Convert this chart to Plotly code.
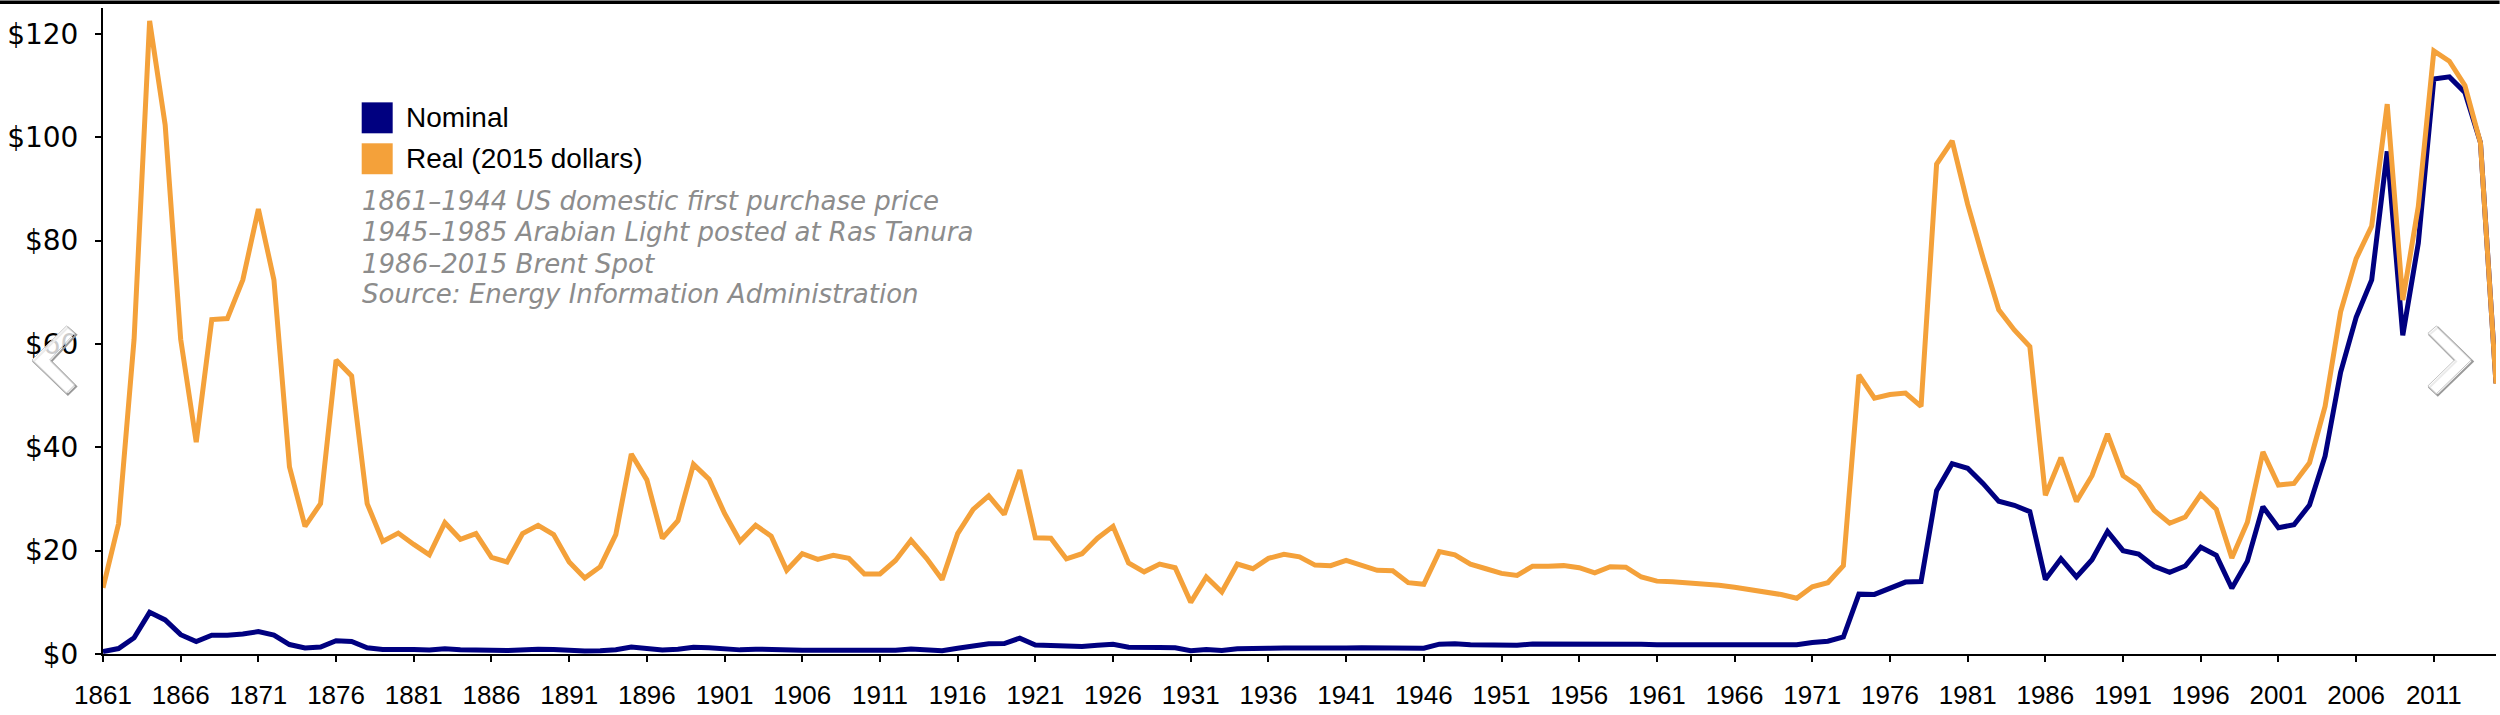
import plotly.graph_objects as go

years = list(range(1861, 2016))

nominal = [
    0.49, 1.05, 3.15, 8.06, 6.59, 3.74, 2.41, 3.62, 3.64, 3.86,   # 1861-1870
    4.34, 3.64, 1.83, 1.17, 1.35, 2.56, 2.42, 1.19, 0.86, 0.95,   # 1871-1880
    0.86, 0.78, 1.00, 0.84, 0.88, 0.71, 0.67, 0.88, 0.94, 0.87,   # 1881-1890
    0.67, 0.56, 0.64, 0.84, 1.36, 1.18, 0.79, 0.91, 1.29, 1.19,   # 1891-1900
    0.96, 0.80, 0.94, 0.86, 0.62, 0.73, 0.72, 0.72, 0.70, 0.61,   # 1901-1910
    0.61, 0.74, 0.95, 0.81, 0.64, 1.10, 1.56, 1.98, 2.01, 3.07,   # 1911-1920
    1.73, 1.61, 1.34, 1.43, 1.68, 1.88, 1.30, 1.17, 1.27, 1.19,   # 1921-1930
    0.65, 0.87, 0.67, 1.00, 0.97, 1.09, 1.18, 1.13, 1.02, 1.02,   # 1931-1940
    1.14, 1.19, 1.20, 1.21, 1.05, 1.12, 1.90, 1.99, 1.78, 1.71,   # 1941-1950
    1.71, 1.71, 1.93, 1.93, 1.93, 1.93, 1.90, 2.08, 2.08, 1.90,   # 1951-1960
    1.80, 1.80, 1.80, 1.80, 1.80, 1.80, 1.80, 1.80, 1.80, 1.80,   # 1961-1970
    2.24, 2.48, 3.29, 11.58, 11.53, 12.80, 13.92, 14.02, 31.61, 36.83,  # 1971-1980
    35.93, 32.97, 29.55, 28.78, 27.56, 14.43, 18.44, 14.92, 18.23, 23.73,  # 1981-1990
    20.00, 19.32, 16.97, 15.82, 17.02, 20.67, 19.09, 12.72, 17.97, 28.50,  # 1991-2000
    24.44, 25.02, 28.83, 38.27, 54.52, 65.14, 72.39, 97.26, 61.67, 79.50,  # 2001-2010
    111.26, 111.67, 108.66, 98.95, 52.39,                                   # 2011-2015
]

real_2015 = [
    12.8, 25.2, 60.9, 122.5, 102.4, 60.9, 41.0, 64.7, 64.9, 72.4,   # 1861-1870
    86.1, 72.4, 36.2, 24.7, 29.1, 56.9, 53.8, 29.1, 21.8, 23.4,     # 1871-1880
    21.2, 19.2, 25.4, 22.2, 23.3, 18.7, 17.8, 23.3, 24.9, 23.1,     # 1881-1890
    17.8, 14.7, 16.9, 23.1, 38.7, 33.7, 22.4, 25.8, 36.7, 33.8,     # 1891-1900
    27.2, 21.8, 24.9, 22.8, 16.2, 19.4, 18.3, 19.1, 18.5, 15.5,     # 1901-1910
    15.5, 18.1, 22.0, 18.5, 14.4, 23.3, 28.0, 30.6, 27.0, 35.6,     # 1911-1920
    22.5, 22.4, 18.4, 19.4, 22.4, 24.7, 17.6, 15.9, 17.4, 16.7,     # 1921-1930
    10.0, 14.9, 12.0, 17.4, 16.5, 18.5, 19.3, 18.8, 17.2, 17.1,     # 1931-1940
    18.1, 17.1, 16.2, 16.1, 13.8, 13.5, 19.8, 19.2, 17.4, 16.5,     # 1941-1950
    15.6, 15.2, 17.0, 17.0, 17.1, 16.7, 15.7, 16.9, 16.8, 14.9,     # 1951-1960
    14.1, 14.0, 13.8, 13.6, 13.3, 12.9, 12.5, 12.0, 11.5, 10.8,     # 1961-1970
    13.0, 13.8, 17.1, 54.0, 49.5, 50.2, 50.5, 47.9, 94.8, 99.3,     # 1971-1980
    87.0, 76.5, 66.6, 62.7, 59.5, 30.7, 38.0, 29.5, 34.5, 42.6,     # 1981-1990
    34.5, 32.4, 27.8, 25.3, 26.5, 30.9, 28.0, 18.6, 25.5, 39.1,     # 1991-2000
    32.7, 33.0, 37.0, 47.9, 66.2, 76.5, 82.8, 106.4, 68.5, 86.6,    # 2001-2010
    116.7, 114.7, 110.0, 98.9, 52.3,                                # 2011-2015
]

x_tick_years = [1861, 1866, 1871, 1876, 1881, 1886, 1891, 1896, 1901, 1906,
                1911, 1916, 1921, 1926, 1931, 1936, 1941, 1946, 1951, 1956,
                1961, 1966, 1971, 1976, 1981, 1986, 1991, 1996, 2001, 2006, 2011]
x_tick_labels = [str(y) for y in x_tick_years]
y_tick_vals = [0, 20, 40, 60, 80, 100, 120]
y_tick_labels = ["$0", "$20", "$40", "$60", "$80", "$100", "$120"]

series_names = ["Nominal", "Real (2015 dollars)"]
notes = [
    "1861–1944 US domestic first purchase price",
    "1945–1985 Arabian Light posted at Ras Tanura",
    "1986–2015 Brent Spot",
    "Source: Energy Information Administration",
]

NAVY = "#000080"
ORANGE = "#F4A13A"

W, H = 2500, 715
PL, PR, PT, PB = 103.3, 2496.4, 7.5, 654.5


def px(xp):
    return (xp - PL) / (PR - PL)


def py(yp):
    return (PB - yp) / (PB - PT)


fig = go.Figure()
fig.add_trace(go.Scatter(x=years, y=nominal, mode="lines", name=series_names[0],
                         line=dict(color=NAVY, width=5), showlegend=False))
fig.add_trace(go.Scatter(x=years, y=real_2015, mode="lines", name=series_names[1],
                         line=dict(color=ORANGE, width=5), showlegend=False))

shapes = []
# top black bar
shapes.append(dict(type="rect", xref="paper", yref="paper",
                   x0=px(0), x1=px(W), y0=py(0), y1=py(3.5),
                   fillcolor="black", line=dict(width=0), layer="above"))
# legend swatches
shapes.append(dict(type="rect", xref="paper", yref="paper",
                   x0=px(362), x1=px(393), y0=py(102), y1=py(133),
                   fillcolor=NAVY, line=dict(width=0)))
shapes.append(dict(type="rect", xref="paper", yref="paper",
                   x0=px(362), x1=px(393), y0=py(143), y1=py(174),
                   fillcolor=ORANGE, line=dict(width=0)))


def chevron_path(pts, dx=0.0, dy=0.0):
    s = ""
    for i, (a, b) in enumerate(pts):
        s += ("M" if i == 0 else "L") + f"{px(a + dx):.5f},{py(b + dy):.5f} "
    return s + "Z"


left_chev = [(66.7, 326), (32.3, 360), (66.7, 393.3), (75, 385), (50, 360), (75, 333.3)]
right_chev = [(2436.7, 326), (2471.7, 360), (2436.7, 394), (2428.3, 386), (2455, 360), (2428.3, 333.3)]
for ch in (left_chev, right_chev):
    shapes.append(dict(type="path", xref="paper", yref="paper", path=chevron_path(ch, 1.5, 1.5),
                       fillcolor="rgba(0,0,0,0)", line=dict(color="#9a9a9a", width=2), layer="above"))
    shapes.append(dict(type="path", xref="paper", yref="paper", path=chevron_path(ch),
                       fillcolor="rgba(255,255,255,0.8)", line=dict(color="#c4c4c4", width=1), layer="above"))

annotations = []
annotations.append(dict(xref="paper", yref="paper", x=px(404), y=py(117.5), xanchor="left", yanchor="middle",
                        text=series_names[0], showarrow=False,
                        font=dict(family="Liberation Sans", size=28, color="black")))
annotations.append(dict(xref="paper", yref="paper", x=px(404), y=py(158.5), xanchor="left", yanchor="middle",
                        text=series_names[1], showarrow=False,
                        font=dict(family="Liberation Sans", size=28, color="black")))
for note, yc in zip(notes, [200.5, 232, 263.8, 294]):
    annotations.append(dict(xref="paper", yref="paper", x=px(360), y=py(yc), xanchor="left", yanchor="middle",
                            text=note, showarrow=False,
                            font=dict(family="DejaVu Sans", size=26, color="#8c8c8c", style="italic")))

fig.update_layout(
    width=W, height=H,
    margin=dict(l=PL, r=W - PR, t=PT, b=H - PB, pad=0),
    paper_bgcolor="white", plot_bgcolor="white",
    shapes=shapes, annotations=annotations,
    showlegend=False,
    xaxis=dict(range=[1861, 2015], tickvals=x_tick_years, ticktext=x_tick_labels,
               showgrid=False, zeroline=False, showline=True, linecolor="black", linewidth=2,
               ticks="outside", ticklen=6, tickwidth=2, tickcolor="black",
               ticklabelstandoff=11,
               tickfont=dict(family="Liberation Sans", size=26, color="black")),
    yaxis=dict(range=[0, 125], tickvals=y_tick_vals, ticktext=y_tick_labels,
               showgrid=False, zeroline=False, showline=True, linecolor="black", linewidth=2,
               ticks="outside", ticklen=6, tickwidth=2, tickcolor="black",
               ticklabelstandoff=11,
               tickfont=dict(family="DejaVu Sans", size=28, color="black")),
)

fig.write_html(
    "out.html",
    config={"displayModeBar": False},
    post_script="document.body.style.margin='0';document.body.style.overflow='hidden';",
)
